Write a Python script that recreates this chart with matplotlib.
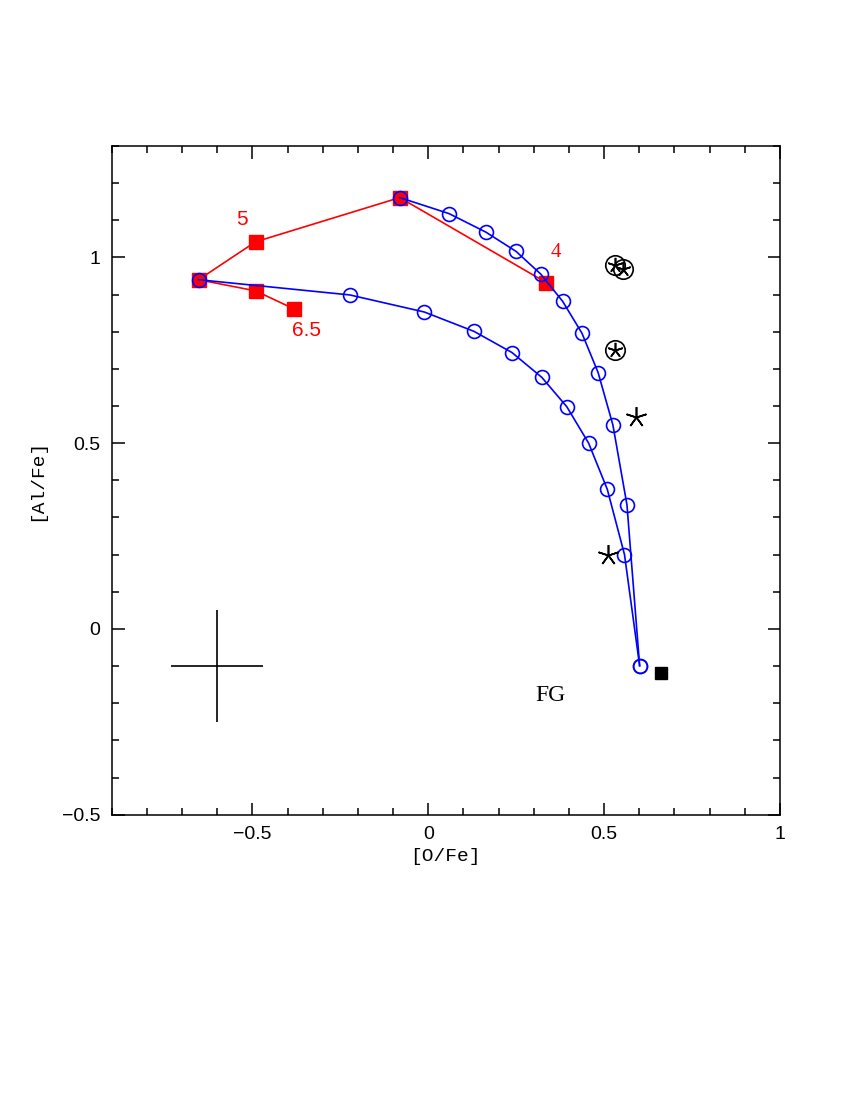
import matplotlib
matplotlib.use("Agg")
import matplotlib.pyplot as plt
from matplotlib.ticker import MultipleLocator, FixedFormatter, FixedLocator

# Red model track (masses 4 -> 6.5)
red_x = [0.336, -0.081, -0.491, -0.653, -0.491, -0.383]
red_y = [0.932, 1.161, 1.042, 0.940, 0.910, 0.862]

# Blue dilution curves
blue1_x = [-0.081, 0.059, 0.164, 0.250, 0.320, 0.382, 0.437, 0.483, 0.525, 0.565, 0.601]
blue1_y = [1.161, 1.118, 1.068, 1.016, 0.955, 0.882, 0.796, 0.690, 0.549, 0.334, -0.099]
blue2_x = [-0.653, -0.223, -0.011, 0.130, 0.238, 0.323, 0.394, 0.456, 0.509, 0.558, 0.601]
blue2_y = [0.940, 0.899, 0.853, 0.801, 0.744, 0.677, 0.598, 0.500, 0.376, 0.200, -0.099]

# Observed stars
circled_x = [0.530, 0.553, 0.531]
circled_y = [0.980, 0.970, 0.750]
star_x = [0.592, 0.511]
star_y = [0.570, 0.200]
fg_x = [0.661]
fg_y = [-0.119]

# Typical error bar
err_x, err_y = -0.60, -0.10
err_dx, err_dy = 0.13, 0.15

# Mass labels
mass_labels = ["4", "5", "6.5"]
mass_lx = [0.364, -0.530, -0.345]
mass_ly = [1.013, 1.103, 0.804]

fig = plt.figure(figsize=(8.5, 11), dpi=100)
ax = fig.add_axes([0.1314, 0.2594, 0.9176 - 0.1314, 0.8673 - 0.2594])

ax.plot(red_x, red_y, color="red", lw=1.2, marker="s", ms=9.5, mfc="red", mec="red", zorder=2)
ax.plot(blue1_x, blue1_y, color="blue", lw=1.2, marker="o", ms=10, mfc="none", mec="blue", mew=1.2, zorder=3)
ax.plot(blue2_x, blue2_y, color="blue", lw=1.2, marker="o", ms=10, mfc="none", mec="blue", mew=1.2, zorder=3)

ax.plot(circled_x, circled_y, ls="none", marker="o", ms=14, mfc="none", mec="black", mew=1.2, zorder=4)
ax.plot(circled_x, circled_y, ls="none", marker=(5, 2, 0), ms=11, mec="black", mew=1.2, zorder=4)
ax.plot(star_x, star_y, ls="none", marker=(5, 2, 0), ms=15, mec="black", mew=1.2, zorder=4)
ax.plot(fg_x, fg_y, ls="none", marker="s", ms=8, color="black", zorder=4)

ax.errorbar([err_x], [err_y], xerr=[err_dx], yerr=[err_dy], fmt="none", ecolor="black", elinewidth=1.2, capsize=0)

for t, lx, ly in zip(mass_labels, mass_lx, mass_ly):
    fam = "Liberation Serif" if t == "4" else "Liberation Sans"
    ax.text(lx, ly, t, color="red", fontsize=15, ha="center", va="center", family=fam)
ax.text(0.347, -0.178, "FG", fontsize=17, ha="center", va="center", family="Liberation Serif")

ax.set_xlim(-0.9, 1.0)
ax.set_ylim(-0.5, 1.3)

xt = [-0.5, 0, 0.5, 1]
yt = [-0.5, 0, 0.5, 1]
ax.xaxis.set_major_locator(FixedLocator(xt))
ax.xaxis.set_major_formatter(FixedFormatter(["\u22120.5", "0", "0.5", "1"]))
ax.yaxis.set_major_locator(FixedLocator(yt))
ax.yaxis.set_major_formatter(FixedFormatter(["\u22120.5", "0", "0.5", "1"]))
ax.xaxis.set_minor_locator(MultipleLocator(0.1))
ax.yaxis.set_minor_locator(MultipleLocator(0.1))
ax.tick_params(which="both", direction="in", top=True, right=True, width=1.1)
ax.tick_params(which="major", length=9, labelsize=14, pad=8)
ax.tick_params(which="minor", length=5)
for lab in ax.get_xticklabels() + ax.get_yticklabels():
    lab.set_family("Liberation Sans")
for s in ax.spines.values():
    s.set_linewidth(1.1)

ax.set_xlabel("[O/Fe]", fontsize=14, family="Liberation Mono", labelpad=4)
ax.set_ylabel("[Al/Fe]", fontsize=14, family="Liberation Mono", labelpad=12)

fig.savefig("out.png", dpi=100)
